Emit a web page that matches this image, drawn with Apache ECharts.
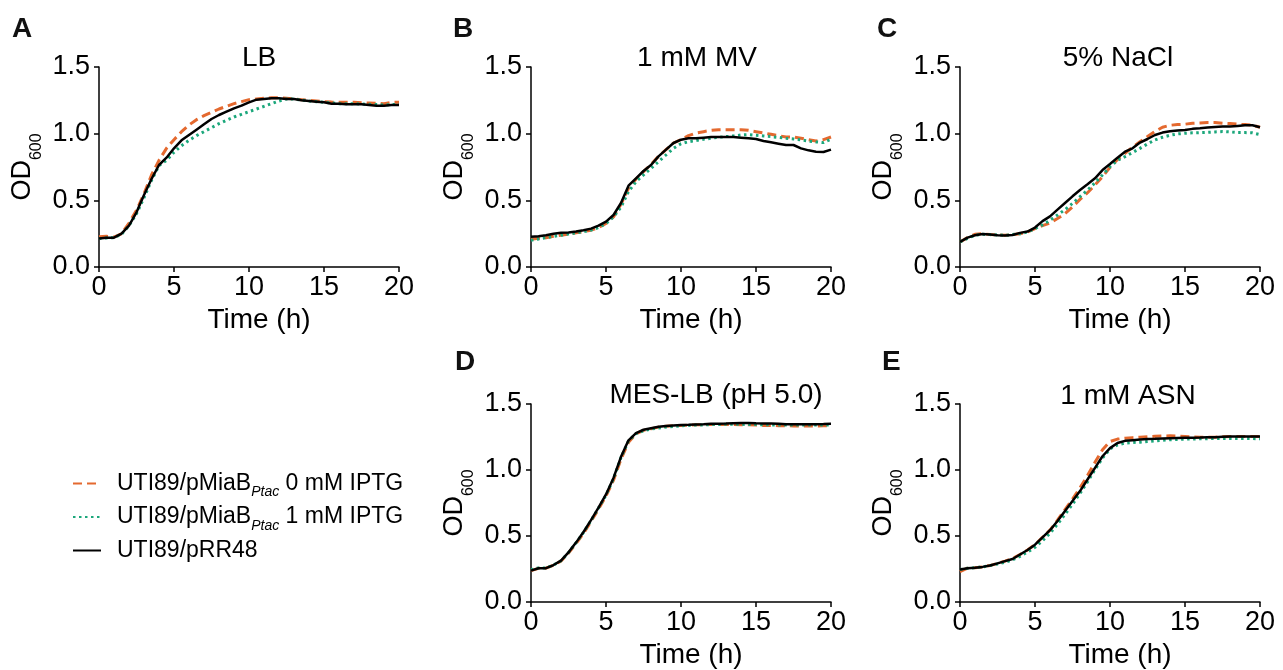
<!DOCTYPE html>
<html>
<head>
<meta charset="utf-8">
<script src="https://cdn.jsdelivr.net/npm/echarts@6/dist/echarts.min.js"></script>
<style>
html,body{margin:0;padding:0;background:#fff;}
#chart{width:1283px;height:670px;}
</style>
</head>
<body>
<div id="chart"></div>
<script>
// ---------- DATA ----------
var hours = [0,0.5,1,1.5,2,2.5,3,3.5,4,4.5,5,5.5,6,6.5,7,7.5,8,8.5,9,9.5,10,10.5,11,11.5,12,12.5,13,13.5,14,14.5,15,15.5,16,16.5,17,17.5,18,18.5,19,19.5,20];
var xTicks = [0,5,10,15,20];
var yTicks = [0,0.5,1.0,1.5];
var panelLetters = ['A','B','C','D','E'];
var panelTitles = ['LB','1 mM MV','5% NaCl','MES-LB (pH 5.0)','1 mM ASN'];
var seriesNames = ['UTI89/pMiaB_Ptac 0 mM IPTG','UTI89/pMiaB_Ptac 1 mM IPTG','UTI89/pRR48'];

// Panel A: LB
var A_ipt0 = [0.226,0.23,0.225,0.25,0.33,0.425,0.55,0.69,0.80,0.89,0.955,1.015,1.065,1.105,1.135,1.16,1.185,1.205,1.225,1.24,1.255,1.26,1.265,1.27,1.27,1.265,1.26,1.255,1.25,1.245,1.24,1.237,1.235,1.235,1.235,1.232,1.23,1.228,1.225,1.235,1.235];
var A_ipt1 = [0.213,0.218,0.22,0.245,0.31,0.40,0.52,0.65,0.76,0.80,0.86,0.91,0.95,0.985,1.015,1.045,1.075,1.10,1.125,1.145,1.165,1.185,1.205,1.225,1.245,1.26,1.26,1.252,1.245,1.24,1.235,1.23,1.225,1.225,1.225,1.222,1.22,1.218,1.215,1.218,1.22];
var A_rr48 = [0.213,0.22,0.22,0.25,0.31,0.41,0.54,0.66,0.765,0.82,0.89,0.95,0.99,1.03,1.07,1.11,1.14,1.165,1.19,1.21,1.235,1.255,1.26,1.265,1.265,1.26,1.26,1.25,1.245,1.24,1.235,1.225,1.225,1.22,1.22,1.22,1.215,1.21,1.21,1.215,1.215];
// Panel B: 1 mM MV
var B_ipt0 = [0.208,0.215,0.22,0.23,0.238,0.247,0.256,0.265,0.276,0.296,0.326,0.376,0.47,0.59,0.66,0.715,0.77,0.83,0.88,0.93,0.955,0.985,1.005,1.015,1.025,1.03,1.03,1.03,1.03,1.025,1.015,1.005,0.995,0.985,0.975,0.975,0.965,0.955,0.945,0.955,0.975];
var B_ipt1 = [0.20,0.21,0.22,0.23,0.238,0.247,0.256,0.265,0.276,0.296,0.326,0.376,0.45,0.565,0.64,0.69,0.74,0.79,0.84,0.89,0.925,0.94,0.948,0.958,0.965,0.973,0.978,0.983,0.99,0.993,0.988,0.983,0.978,0.972,0.965,0.96,0.953,0.945,0.938,0.933,0.958];
var B_rr48 = [0.226,0.23,0.238,0.25,0.256,0.258,0.266,0.276,0.288,0.31,0.34,0.39,0.48,0.61,0.665,0.72,0.765,0.83,0.88,0.93,0.955,0.965,0.965,0.97,0.975,0.975,0.975,0.975,0.97,0.965,0.96,0.945,0.935,0.925,0.915,0.915,0.89,0.875,0.865,0.863,0.88];
// Panel C: 5% NaCl
var C_ipt0 = [0.188,0.22,0.245,0.25,0.243,0.24,0.238,0.243,0.25,0.263,0.288,0.31,0.33,0.364,0.40,0.45,0.507,0.557,0.615,0.677,0.747,0.807,0.853,0.898,0.94,0.978,1.016,1.048,1.063,1.068,1.071,1.078,1.08,1.083,1.083,1.078,1.076,1.071,1.068,1.063,1.048];
var C_ipt1 = [0.188,0.215,0.238,0.245,0.243,0.24,0.238,0.243,0.25,0.263,0.288,0.316,0.35,0.39,0.43,0.477,0.527,0.577,0.632,0.69,0.752,0.80,0.828,0.858,0.89,0.923,0.953,0.973,0.988,0.998,1.003,1.006,1.008,1.01,1.013,1.016,1.013,1.008,1.008,1.006,0.993];
var C_rr48 = [0.188,0.22,0.238,0.248,0.243,0.238,0.236,0.24,0.256,0.266,0.296,0.344,0.38,0.43,0.48,0.53,0.577,0.62,0.665,0.727,0.772,0.82,0.865,0.89,0.933,0.96,0.99,1.008,1.018,1.023,1.028,1.036,1.04,1.046,1.05,1.053,1.053,1.058,1.063,1.063,1.048];
// Panel D: MES-LB (pH 5.0)
var D_ipt0 = [0.238,0.255,0.256,0.278,0.31,0.37,0.443,0.52,0.61,0.703,0.803,0.923,1.083,1.21,1.274,1.30,1.313,1.325,1.332,1.335,1.338,1.34,1.342,1.344,1.345,1.345,1.345,1.344,1.343,1.342,1.34,1.338,1.337,1.336,1.335,1.334,1.334,1.334,1.334,1.335,1.336];
var D_ipt1 = [0.245,0.258,0.258,0.28,0.312,0.375,0.448,0.527,0.617,0.712,0.81,0.935,1.095,1.22,1.275,1.298,1.31,1.318,1.325,1.33,1.335,1.338,1.34,1.342,1.344,1.345,1.346,1.346,1.346,1.345,1.344,1.343,1.342,1.341,1.34,1.34,1.34,1.34,1.34,1.341,1.342];
var D_rr48 = [0.238,0.256,0.256,0.28,0.313,0.376,0.45,0.53,0.62,0.715,0.815,0.94,1.10,1.225,1.28,1.305,1.317,1.327,1.334,1.337,1.34,1.342,1.345,1.347,1.35,1.351,1.352,1.355,1.357,1.356,1.354,1.353,1.352,1.35,1.347,1.347,1.347,1.347,1.347,1.348,1.35];
// Panel E: 1 mM ASN
var E_ipt0 = [0.23,0.256,0.26,0.266,0.276,0.293,0.31,0.33,0.36,0.394,0.434,0.49,0.544,0.62,0.70,0.78,0.865,0.958,1.058,1.154,1.216,1.234,1.241,1.245,1.249,1.252,1.256,1.258,1.259,1.257,1.254,1.251,1.249,1.249,1.249,1.251,1.254,1.254,1.254,1.254,1.254];
var E_ipt1 = [0.246,0.255,0.26,0.266,0.276,0.288,0.30,0.32,0.346,0.378,0.414,0.464,0.52,0.59,0.664,0.74,0.823,0.91,1.003,1.09,1.16,1.19,1.204,1.208,1.211,1.216,1.221,1.225,1.229,1.232,1.234,1.235,1.236,1.237,1.239,1.239,1.239,1.239,1.239,1.238,1.236];
var E_rr48 = [0.246,0.256,0.26,0.266,0.276,0.293,0.31,0.326,0.36,0.394,0.434,0.49,0.544,0.614,0.69,0.765,0.84,0.928,1.016,1.104,1.166,1.204,1.221,1.226,1.231,1.234,1.236,1.239,1.241,1.243,1.244,1.245,1.246,1.248,1.249,1.252,1.254,1.254,1.254,1.254,1.254];

// ---------- LAYOUT / STYLE ----------
var FONT = '"Liberation Sans", Arial, Helvetica, sans-serif';
var panelData = [
  [A_ipt0, A_ipt1, A_rr48],
  [B_ipt0, B_ipt1, B_rr48],
  [C_ipt0, C_ipt1, C_rr48],
  [D_ipt0, D_ipt1, D_rr48],
  [E_ipt0, E_ipt1, E_rr48]
];
var grids = [
  {left: 99, top: 67, width: 300, height: 200},
  {left: 531, top: 67, width: 300, height: 200},
  {left: 960, top: 67, width: 300, height: 200},
  {left: 531, top: 404, width: 300, height: 200},
  {left: 960, top: 404, width: 300, height: 200}
];
var letterPos = [[12,29],[453,29],[877,29],[455,362],[882,362]];
var titlePos = [[259,58],[697,58],[1118,58],[716,395],[1128,396]];
var lineStyles = [
  {color: '#E4692F', width: 3, type: [9, 5]},
  {color: '#1BA77B', width: 3, type: [2.5, 3.5]},
  {color: '#000000', width: 2.5, type: 'solid'}
];
var drawOrder = [1, 0, 2];

var xAxes = [], yAxes = [], series = [], graphics = [];
grids.forEach(function (g, i) {
  xAxes.push({
    gridIndex: i, type: 'value', min: 0, max: 20, interval: 5,
    axisLine: {lineStyle: {color: '#000', width: 1.5}},
    axisTick: {length: 5, lineStyle: {color: '#000', width: 1.5}},
    splitLine: {show: false},
    axisLabel: {fontSize: 27, color: '#000', fontFamily: FONT, margin: 7},
    name: 'Time (h)', nameLocation: 'middle', nameGap: 39,
    nameTextStyle: {fontSize: 28, color: '#000', fontFamily: FONT, padding: [0, 0, 0, 20]}
  });
  yAxes.push({
    gridIndex: i, type: 'value', min: 0, max: 1.5, interval: 0.5,
    axisLine: {show: true, lineStyle: {color: '#000', width: 1.5}},
    axisTick: {show: true, length: 5, lineStyle: {color: '#000', width: 1.5}},
    splitLine: {show: false},
    axisLabel: {fontSize: 27, color: '#000', fontFamily: FONT, margin: 9,
      formatter: function (v) { return v.toFixed(1); }},
    name: '{a|OD}{b|600}', nameLocation: 'middle', nameGap: 54,
    nameTextStyle: {
      rich: {
        a: {fontSize: 27, color: '#000', fontFamily: FONT, lineHeight: 44},
        b: {fontSize: 16, color: '#000', fontFamily: FONT, lineHeight: 16, verticalAlign: 'bottom'}
      }
    }
  });
  drawOrder.forEach(function (k) {
    var vals = panelData[i][k];
    series.push({
      type: 'line', name: seriesNames[k], xAxisIndex: i, yAxisIndex: i,
      data: hours.map(function (h, j) { return [h, vals[j]]; }),
      symbol: 'none', smooth: false, silent: true,
      lineStyle: lineStyles[k], z: 2 + k,
      color: lineStyles[k].color
    });
  });
  graphics.push({
    type: 'text', x: letterPos[i][0], y: letterPos[i][1],
    style: {text: panelLetters[i], font: 'bold 28px ' + FONT, fill: '#111',
      align: 'left', verticalAlign: 'middle', textAlign: 'left', textVerticalAlign: 'middle'}
  });
  graphics.push({
    type: 'text', x: titlePos[i][0], y: titlePos[i][1],
    style: {text: panelTitles[i], font: '28px ' + FONT, fill: '#000',
      align: 'center', verticalAlign: 'middle', textAlign: 'center', textVerticalAlign: 'middle'}
  });
});

var chart = echarts.init(document.getElementById('chart'), null, {renderer: 'canvas'});
chart.setOption({
  animation: false,
  backgroundColor: '#fff',
  grid: grids,
  xAxis: xAxes,
  yAxis: yAxes,
  series: series,
  graphic: graphics,
  legend: {
    orient: 'vertical', left: 72, top: 472, padding: 0,
    itemWidth: 28, itemHeight: 14, itemGap: 6,
    selectedMode: false,
    data: seriesNames,
    itemStyle: {color: 'transparent', borderColor: 'transparent', borderWidth: 0},
    formatter: function (name) {
      if (name.indexOf('_Ptac') >= 0) {
        var parts = name.split('_Ptac');
        return '{n|' + parts[0] + '}{s|Ptac}{n|' + parts[1] + '}';
      }
      return '{n|' + name + '}';
    },
    textStyle: {
      padding: [0, 0, 0, 11],
      rich: {
        n: {fontSize: 23, color: '#000', fontFamily: FONT, lineHeight: 32},
        s: {fontSize: 14, fontStyle: 'italic', color: '#000', fontFamily: FONT, lineHeight: 14, verticalAlign: 'bottom'}
      }
    }
  }
});
</script>
</body>
</html>
